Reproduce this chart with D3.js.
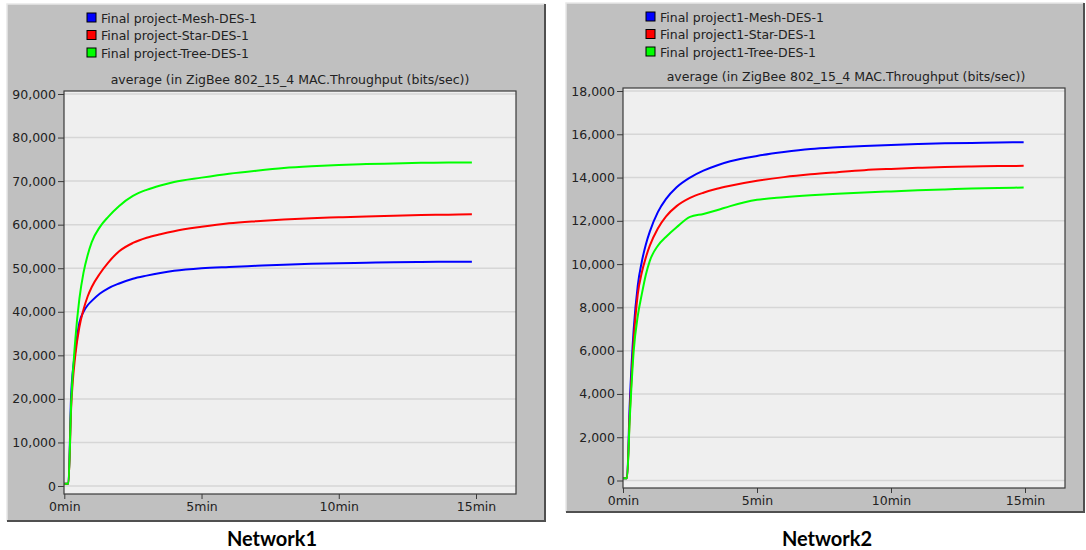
<!DOCTYPE html>
<html>
<head>
<meta charset="utf-8">
<script src="https://cdn.jsdelivr.net/npm/d3@7"></script>
<style>
  body { margin: 0; background: #fff; }
  svg text { font-family: "DejaVu Sans", sans-serif; }
</style>
</head>
<body>
<svg id="chart" width="1086" height="550"></svg>
<script>
// time axis (minutes)
const times1 = [0, 0.15, 0.25, 0.4, 0.55, 0.7, 0.85, 1.0, 1.3, 1.6, 2.0, 2.5, 3.0, 3.5, 4.0, 5.0, 6.0, 7.0, 8.0, 9.0, 10, 11, 12, 13, 14, 14.85];
const times2 = [0, 0.15, 0.25, 0.4, 0.55, 0.7, 0.85, 1.0, 1.3, 1.6, 2.0, 2.5, 3.0, 3.5, 4.0, 5.0, 6.0, 7.0, 8.0, 9.0, 10, 11, 12, 13, 14, 14.95];

// Network1 throughput (bits/sec)
const mesh1 = [500, 500, 21000, 31000, 37500, 40000, 41500, 42500, 44200, 45400, 46500, 47600, 48300, 48900, 49400, 50000, 50300, 50550, 50800, 51000, 51150, 51250, 51350, 51420, 51480, 51500];
const star1 = [500, 500, 18000, 30000, 36500, 40500, 43500, 45700, 48800, 51300, 53900, 55800, 57000, 57800, 58500, 59500, 60300, 60800, 61200, 61500, 61700, 61900, 62050, 62200, 62300, 62400];
const tree1 = [500, 500, 19000, 33500, 43000, 49000, 53000, 56000, 59500, 61800, 64300, 66600, 68000, 69000, 69800, 70800, 71700, 72400, 73000, 73400, 73700, 73900, 74050, 74200, 74300, 74300];

// Network2 throughput (bits/sec)
const mesh2 = [100, 100, 3500, 7000, 9000, 10100, 10900, 11500, 12400, 13000, 13550, 14000, 14320, 14560, 14750, 15000, 15180, 15320, 15400, 15460, 15510, 15550, 15580, 15600, 15620, 15630];
const star2 = [100, 100, 3000, 6500, 8600, 9600, 10300, 10850, 11650, 12200, 12680, 13060, 13300, 13480, 13620, 13850, 14020, 14150, 14250, 14340, 14400, 14450, 14490, 14510, 14530, 14540];
const tree2 = [100, 100, 2800, 6000, 7600, 8600, 9500, 10150, 10850, 11250, 11700, 12180, 12320, 12490, 12680, 12970, 13090, 13180, 13250, 13310, 13360, 13410, 13450, 13490, 13520, 13540];

const xTicks = [0, 5, 10, 15];
const yTicks1 = [0, 10000, 20000, 30000, 40000, 50000, 60000, 70000, 80000, 90000];
const yTicks2 = [0, 2000, 4000, 6000, 8000, 10000, 12000, 14000, 16000, 18000];

const seriesColors = ["#0000ff", "#ff0000", "#00ff00"];
const legend1 = ["Final project-Mesh-DES-1", "Final project-Star-DES-1", "Final project-Tree-DES-1"];
const legend2 = ["Final project1-Mesh-DES-1", "Final project1-Star-DES-1", "Final project1-Tree-DES-1"];
const titleText = "average (in ZigBee 802_15_4 MAC.Throughput (bits/sec))";

const svg = d3.select("#chart");
const fmt = d3.format(",");
const fontSize = 12.5;

function drawPanel(p) {
    const g = svg.append("g");

    // gray panel with bevel edges
    g.append("rect")
        .attr("x", p.panel[0]).attr("y", p.panel[1])
        .attr("width", p.panel[2] - p.panel[0]).attr("height", p.panel[3] - p.panel[1])
        .attr("fill", "#c0c0c0");
    g.append("path")
        .attr("d", `M${p.panel[0]},${p.panel[3]}V${p.panel[1]}H${p.panel[2]}`)
        .attr("fill", "none").attr("stroke", "#e8e8e8").attr("stroke-width", 1.5);
    g.append("path")
        .attr("d", `M${p.panel[0]},${p.panel[3]}H${p.panel[2]}V${p.panel[1]}`)
        .attr("fill", "none").attr("stroke", "#505050").attr("stroke-width", 2);

    const x = d3.scaleLinear().domain([0, 15]).range([p.x0, p.x15]);
    const y = d3.scaleLinear().domain([0, p.yMax]).range([p.y0, p.yTop]);

    // plot area
    g.append("rect")
        .attr("x", p.box[0]).attr("y", p.box[1])
        .attr("width", p.box[2] - p.box[0]).attr("height", p.box[3] - p.box[1])
        .attr("fill", "#efefef");

    // horizontal grid
    g.append("g").selectAll("line")
        .data(p.yTicks)
        .enter()
        .append("line")
        .attr("x1", p.box[0]).attr("x2", p.box[2])
        .attr("y1", d => y(d)).attr("y2", d => y(d))
        .attr("stroke", "#d6d6d6").attr("stroke-width", 1.5);

    // series lines
    const line = d3.line()
        .x((d, i) => x(p.times[i]))
        .y(d => y(d))
        .curve(d3.curveMonotoneX);

    g.append("g").selectAll("path")
        .data(p.series)
        .enter()
        .append("path")
        .attr("d", d => line(d))
        .attr("fill", "none")
        .attr("stroke", (d, i) => seriesColors[i])
        .attr("stroke-width", 2);

    // frame
    g.append("rect")
        .attr("x", p.box[0]).attr("y", p.box[1])
        .attr("width", p.box[2] - p.box[0]).attr("height", p.box[3] - p.box[1])
        .attr("fill", "none").attr("stroke", "#3a3a3a").attr("stroke-width", 1.2);

    // y axis
    const yAxis = d3.axisLeft(y).tickValues(p.yTicks).tickFormat(fmt).tickSize(6).tickPadding(2);
    const ya = g.append("g").attr("transform", `translate(${p.box[0]},0)`).call(yAxis);
    ya.select(".domain").remove();
    ya.selectAll("line").attr("stroke", "#3a3a3a");
    ya.selectAll("text").attr("font-size", fontSize).attr("fill", "#222")
        .style("font-family", "DejaVu Sans, sans-serif");

    // x axis
    const xAxis = d3.axisBottom(x).tickValues(xTicks).tickFormat(d => d + "min").tickSize(5).tickPadding(3);
    const xa = g.append("g").attr("transform", `translate(0,${p.box[3]})`).call(xAxis);
    xa.select(".domain").remove();
    xa.selectAll("line").attr("stroke", "#3a3a3a");
    xa.selectAll("text").attr("font-size", fontSize).attr("fill", "#222")
        .style("font-family", "DejaVu Sans, sans-serif");

    // title
    g.append("text")
        .attr("x", p.titleX).attr("y", p.box[1] - 7)
        .attr("text-anchor", "middle")
        .attr("font-size", fontSize).attr("fill", "#222")
        .text(titleText);

    // legend
    const lg = g.append("g").selectAll("g")
        .data(p.legend)
        .enter()
        .append("g")
        .attr("transform", (d, i) => `translate(${p.legendX},${p.legendY + i * 17.5})`);
    lg.append("rect")
        .attr("x", 0).attr("y", -5).attr("width", 9).attr("height", 9)
        .attr("fill", (d, i) => seriesColors[i])
        .attr("stroke", "#000").attr("stroke-width", 1);
    lg.append("text")
        .attr("x", 14).attr("y", 4.5)
        .attr("font-size", fontSize).attr("fill", "#222")
        .text(d => d);

    // caption below
    svg.append("text")
        .attr("x", p.captionX).attr("y", 546)
        .attr("text-anchor", "middle")
        .attr("font-size", 20).attr("font-weight", "bold")
        .style("font-family", "Lato, sans-serif")
        .attr("fill", "#000")
        .text(p.caption);
}

drawPanel({
    panel: [7, 4, 545, 521],
    box: [64, 91, 516, 494],
    x0: 64.3, x15: 476,
    y0: 486, yTop: 94, yMax: 90000,
    yTicks: yTicks1,
    times: times1,
    series: [mesh1, star1, tree1],
    legend: legend1,
    legendX: 87, legendY: 18,
    titleX: 290,
    caption: "Network1", captionX: 272
});

drawPanel({
    panel: [566, 3, 1084, 512],
    box: [623, 88, 1065, 488],
    x0: 623, x15: 1025,
    y0: 480.5, yTop: 91, yMax: 18000,
    yTicks: yTicks2,
    times: times2,
    series: [mesh2, star2, tree2],
    legend: legend2,
    legendX: 646, legendY: 17,
    titleX: 846,
    caption: "Network2", captionX: 827
});
</script>
</body>
</html>
